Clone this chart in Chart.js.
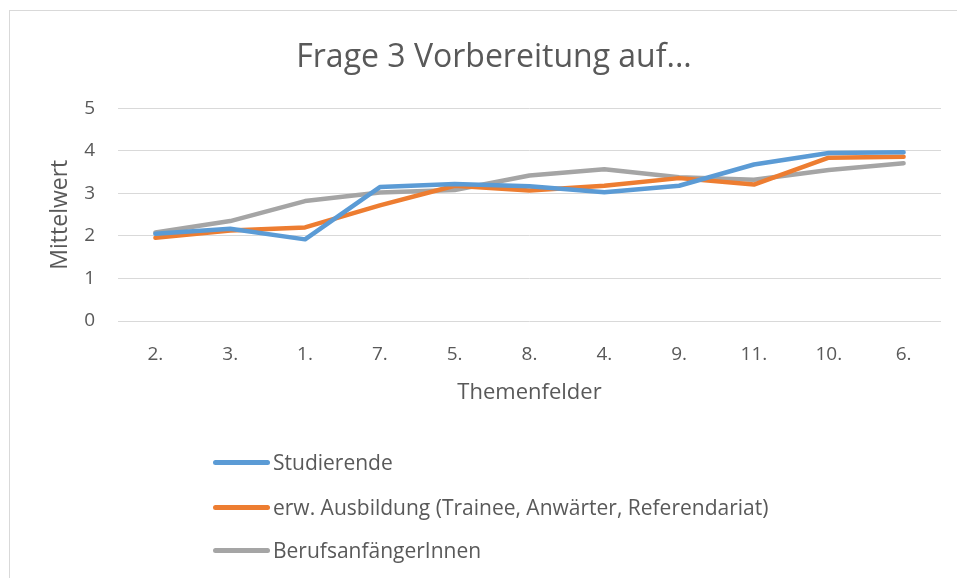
<!DOCTYPE html>
<html>
<head>
<meta charset="utf-8">
<script src="https://cdn.jsdelivr.net/npm/chart.js@4"></script>
<style>
  html, body { margin: 0; padding: 0; background: #fff; }
  body { width: 957px; height: 578px; position: relative; overflow: hidden; font-family: "Open Sans", sans-serif; }
  #frame { position: absolute; left: 9px; top: 10px; width: 1000px; height: 700px; border: 1px solid #d9d9d9; box-sizing: border-box; }
  #chart { position: absolute; left: 0; top: 0; }
  #legend { position: absolute; left: 0; top: 0; }
  .item { position: absolute; left: 213px; height: 28px; display: flex; align-items: center; color: #595959; font-size: 21px; white-space: nowrap; }
  .swatch { width: 57px; height: 5px; border-radius: 3px; margin-right: 3px; }
</style>
</head>
<body>
<div id="frame"></div>
<canvas id="chart" width="957" height="578"></canvas>
<div id="legend"></div>
<script>
// ---------- Daten ----------
const categories = ["2.", "3.", "1.", "7.", "5.", "8.", "4.", "9.", "11.", "10.", "6."];
const studierende = [2.05, 2.17, 1.92, 3.15, 3.22, 3.17, 3.03, 3.18, 3.68, 3.95, 3.97];
const ausbildung = [1.96, 2.13, 2.2, 2.72, 3.18, 3.07, 3.18, 3.36, 3.21, 3.84, 3.86];
const berufsanfaenger = [2.08, 2.35, 2.82, 3.02, 3.08, 3.42, 3.57, 3.38, 3.32, 3.55, 3.71];
const seriesNames = ["Studierende", "erw. Ausbildung (Trainee, Anwärter, Referendariat)", "BerufsanfängerInnen"];
const seriesColors = ["#5B9BD5", "#ED7D31", "#A5A5A5"];
const yTicks = [0, 1, 2, 3, 4, 5];

const textColor = "#595959";
const font = "'Open Sans', sans-serif";

const seriesData = [studierende, ausbildung, berufsanfaenger];

const chart = new Chart(document.getElementById("chart"), {
  type: "line",
  data: {
    labels: categories,
    datasets: seriesData.map((d, i) => ({
      label: seriesNames[i],
      data: d,
      borderColor: seriesColors[i],
      backgroundColor: seriesColors[i],
      borderWidth: 4.5,
      borderCapStyle: "round",
      borderJoinStyle: "round",
      pointRadius: 0,
      tension: 0
    }))
  },
  options: {
    responsive: false,
    animation: false,
    layout: { padding: { left: 47, right: 16, top: 0, bottom: 174 } },
    plugins: {
      legend: { display: false },
      tooltip: { enabled: false },
      title: {
        display: true,
        text: "Frage 3 Vorbereitung auf...",
        color: textColor,
        font: { family: font, size: 32, weight: "normal" },
        padding: { top: 39, bottom: 31 }
      }
    },
    scales: {
      x: {
        offset: true,
        grid: { display: false, drawTicks: false },
        border: { display: false },
        ticks: { color: textColor, font: { family: font, size: 19 }, padding: 22, maxRotation: 0 },
        title: {
          display: true,
          text: "Themenfelder",
          color: textColor,
          font: { family: font, size: 22 },
          padding: { top: 0, bottom: -2 }
        },
        afterFit: axis => { axis.height = 83; }
      },
      y: {
        min: 0,
        max: 5,
        afterBuildTicks: axis => { axis.ticks = yTicks.map(v => ({ value: v })); },
        grid: { color: "#d9d9d9", lineWidth: 1, drawTicks: false },
        border: { display: false },
        ticks: { color: textColor, font: { family: font, size: 19 }, padding: 23 },
        title: {
          display: true,
          text: "Mittelwert",
          color: textColor,
          font: { family: font, size: 23 },
          padding: { top: 0, bottom: 0 }
        },
        afterFit: axis => { axis.width = 71; }
      }
    }
  }
});

// ---------- Legende ----------
const legendDiv = document.getElementById("legend");
const rowCenters = [462, 507, 550];
chart.data.datasets.forEach((ds, i) => {
  const row = document.createElement("div");
  row.className = "item";
  row.style.top = (rowCenters[i] - 14) + "px";
  row.innerHTML = `<span class="swatch" style="background:${ds.borderColor}"></span><span>${ds.label}</span>`;
  legendDiv.appendChild(row);
});
</script>
</body>
</html>
